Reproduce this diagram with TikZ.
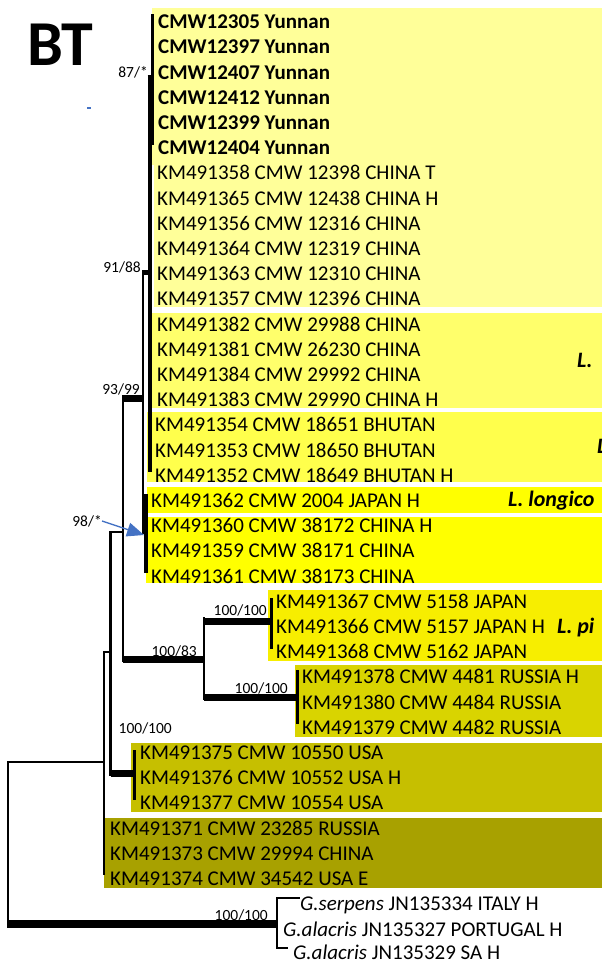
\documentclass[tikz,border=0pt]{standalone}
\usepackage{fontspec}
\setmainfont{Carlito}
\usetikzlibrary{arrows.meta}
\definecolor{cA}{HTML}{FFFF99}
\definecolor{cB}{HTML}{FFFF6B}
\definecolor{cC}{HTML}{FFFF4C}
\definecolor{cD}{HTML}{FFFF00}
\definecolor{cE}{HTML}{F7EE00}
\definecolor{cF}{HTML}{D9D400}
\definecolor{cG}{HTML}{C6BF00}
\definecolor{cH}{HTML}{A8A100}
\definecolor{arrowblue}{HTML}{4472C4}
\begin{document}
\begin{tikzpicture}[x=1pt,y=-1pt,
  tiptext/.style={anchor=base west,inner sep=0pt,font=\fontsize{21}{25}\selectfont},
  sptext/.style={anchor=base west,inner sep=0pt,font=\fontsize{22}{26}\selectfont\bfseries\itshape},
  bslabel/.style={anchor=east,inner sep=0pt,font=\fontsize{15.5}{18}\selectfont},
  thinbr/.style={line width=2.2pt},
  tipbar/.style={line width=3.5pt},
  thickbr/.style={line width=7pt}]
\clip (0,0) rectangle (602,964);
\fill[white] (0,0) rectangle (602,964);
% coloured bands
\fill[cA] (152,8) rectangle (602,165);
\fill[cA] (154,165) rectangle (602,307);
\fill[cB] (151,313) rectangle (602,408);
\fill[cC] (147,412) rectangle (602,482);
\fill[cD] (147,487) rectangle (602,513);
\fill[cD] (146,517) rectangle (602,583);
\fill[cE] (268,590) rectangle (602,661);
\fill[cF] (295,665) rectangle (602,737);
\fill[cG] (131,743) rectangle (602,812);
\fill[cH] (104,818) rectangle (602,888);
% title
\node[anchor=base west,inner sep=0pt,font=\fontsize{64}{70}\selectfont\bfseries] (title) at (27,65) {BT};
% tips
\foreach \r/\t in {0/CMW12305 Yunnan,1/CMW12397 Yunnan,2/CMW12407 Yunnan,3/CMW12412 Yunnan,4/CMW12399 Yunnan,5/CMW12404 Yunnan}
  \node[tiptext,font=\fontsize{21}{25}\selectfont\bfseries] (t\r) at (158,{28.7+25.2*\r}) {\t};
\foreach \r/\t in {6/KM491358 CMW 12398 CHINA T,7/KM491365 CMW 12438 CHINA H,8/KM491356 CMW 12316 CHINA,9/KM491364 CMW 12319 CHINA,10/KM491363 CMW 12310 CHINA,11/KM491357 CMW 12396 CHINA,12/KM491382 CMW 29988 CHINA,13/KM491381 CMW 26230 CHINA,14/KM491384 CMW 29992 CHINA,15/KM491383 CMW 29990 CHINA H}
  \node[tiptext] (t\r) at (157,{28.7+25.2*\r}) {\t};
\foreach \r/\t in {16/KM491354 CMW 18651 BHUTAN,17/KM491353 CMW 18650 BHUTAN,18/KM491352 CMW 18649 BHUTAN H}
  \node[tiptext] (t\r) at (155,{28.7+25.2*\r}) {\t};
\foreach \r/\t in {19/KM491362 CMW 2004 JAPAN H,20/KM491360 CMW 38172 CHINA H,21/KM491359 CMW 38171 CHINA,22/KM491361 CMW 38173 CHINA}
  \node[tiptext] (t\r) at (151,{28.7+25.2*\r}) {\t};
\foreach \r/\t in {23/KM491367 CMW 5158 JAPAN,24/KM491366 CMW 5157 JAPAN H,25/KM491368 CMW 5162 JAPAN}
  \node[tiptext] (t\r) at (276,{28.7+25.2*\r}) {\t};
\foreach \r/\t in {26/KM491378 CMW 4481 RUSSIA H,27/KM491380 CMW 4484 RUSSIA,28/KM491379 CMW 4482 RUSSIA}
  \node[tiptext] (t\r) at (302,{28.7+25.2*\r}) {\t};
\foreach \r/\t in {29/KM491375 CMW 10550 USA,30/KM491376 CMW 10552 USA H,31/KM491377 CMW 10554 USA}
  \node[tiptext] (t\r) at (140,{28.7+25.2*\r}) {\t};
\foreach \r/\t in {32/KM491371 CMW 23285 RUSSIA,33/KM491373 CMW 29994 CHINA,34/KM491374 CMW 34542 USA E}
  \node[tiptext] (t\r) at (110,{28.7+25.2*\r}) {\t};
\node[tiptext] (t35) at (300,910) {\textit{G.serpens} JN135334 ITALY H};
\node[tiptext] (t36) at (283,936) {\textit{G.alacris} JN135327 PORTUGAL H};
\node[tiptext] (t37) at (293,959) {\textit{G.alacris} JN135329 SA H};
% species names (cut at the right edge)
\node[sptext] (s1) at (577,367) {L.};
\node[sptext] (s2) at (597,453) {L.};
\node[sptext] (s3) at (508,506) {L. longico};
\node[sptext] (s4) at (557,633) {L. pi};
% internal node coordinates
\coordinate (yT) at (152.5,14); \coordinate (yB) at (152.5,145);
\coordinate (ysL) at (147.5,78); \coordinate (ysR) at (154,78);
\coordinate (aT) at (149.5,78); \coordinate (aB) at (149.5,472);
\coordinate (bA) at (149.5,272); \coordinate (bT) at (143,270); \coordinate (bB) at (143,534);
\coordinate (bS) at (143,272); \coordinate (bM) at (143,398); \coordinate (dS) at (143,533);
\coordinate (dT) at (145.5,494); \coordinate (dB) at (145.5,573); \coordinate (dM) at (145.5,533);
\coordinate (cT) at (123,395); \coordinate (cB) at (123,662); \coordinate (cM) at (123,398);
\coordinate (cL) at (123,532); \coordinate (cE) at (123,659);
\coordinate (eT) at (204,617); \coordinate (eB) at (204,700);
\coordinate (eU) at (204,621); \coordinate (eD) at (204,697);
\coordinate (fM) at (271,621); \coordinate (fT) at (271.5,598); \coordinate (fB) at (271.5,649);
\coordinate (gM) at (297,697); \coordinate (gT) at (297.5,670); \coordinate (gB) at (297.5,724);
\coordinate (hT) at (110.5,531); \coordinate (hB) at (110.5,776); \coordinate (hM) at (110.5,652); \coordinate (hL) at (110.5,773);
\coordinate (uM) at (134,773); \coordinate (uT) at (134.5,750); \coordinate (uB) at (134.5,800);
\coordinate (iT) at (104,651); \coordinate (iB) at (104,875); \coordinate (iM) at (104,652); \coordinate (iR) at (104,762);
\coordinate (rT) at (8,761); \coordinate (rB) at (8,928); \coordinate (rM) at (8,762); \coordinate (rO) at (8,924);
\coordinate (oM) at (277,924); \coordinate (oT) at (277,897); \coordinate (oB) at (277,949);
\coordinate (oS) at (277,898); \coordinate (oA) at (277,948);
\coordinate (sE) at (300,898); \coordinate (aE) at (288,948);
% branches
\draw[tipbar] (yT) -- (yB);
\draw[line width=7pt] (ysL) -- (ysR);
\draw[line width=4pt] (aT) -- (aB);
\draw[line width=5pt] (bS) -- (bA);
\draw[thinbr] (bT) -- (bB);
\draw[line width=2.5pt] (dS) -- (dM);
\draw[line width=4pt] (dT) -- (dB);
\draw[thickbr] (cM) -- (bM);
\draw[thinbr] (cT) -- (cB);
\draw[thinbr] (hT) -- (hB);
\draw[thinbr] (hT |- cL) -- (cL);
\draw[thickbr] (cE) -- (eD |- cE);
\draw[thinbr] (eT) -- (eB);
\draw[thickbr] (eU) -- (fM);
\draw[tipbar] (fT) -- (fB);
\draw[thickbr] (eD) -- (gM);
\draw[tipbar] (gT) -- (gB);
\draw[thickbr] (hL) -- (uM);
\draw[tipbar] (uT) -- (uB);
\draw[line width=2.8pt] (iT) -- (iB);
\draw[thinbr] (iM) -- (hM);
\draw[thinbr] (rT) -- (rB);
\draw[thinbr] (rM) -- (iR);
\draw[line width=8pt] (rO) -- (oM);
\draw[thinbr] (oT) -- (oB);
\draw[thinbr] (oS) -- (sE);
\draw[thinbr] (oA) -- (aE);
% support values
\node[bslabel] (l1) at (148,72) {87/*};
\node[bslabel] (l2) at (141,267) {91/88};
\node[bslabel] (l3) at (140,389) {93/99};
\node[bslabel] (l4) at (102,521) {98/*};
\node[bslabel] (l5) at (197,651) {100/83};
\node[bslabel] (l6) at (267,610) {100/100};
\node[bslabel] (l7) at (288,688) {100/100};
\node[bslabel] (l8) at (172,728) {100/100};
\node[bslabel] (l9) at (268,915) {100/100};
% blue arrow and mark
\coordinate (arT) at (144,535);
\draw[arrowblue,line width=1.3pt,-{Triangle[length=17pt,width=14pt]}] (l4.east) -- (arT);
\coordinate (bm1) at (87,108); \coordinate (bm2) at (91,108);
\draw[arrowblue,line width=1.5pt] (bm1) -- (bm2);
\end{tikzpicture}
\end{document}
